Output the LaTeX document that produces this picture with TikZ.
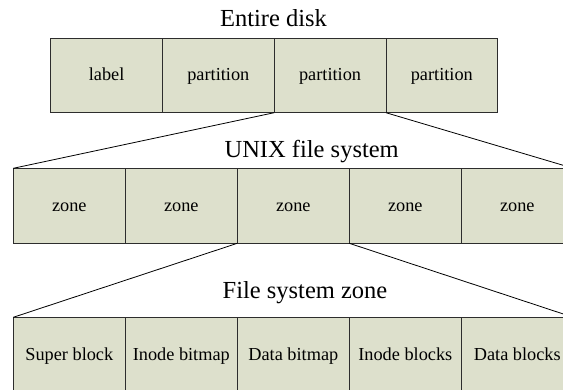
\documentclass[tikz,border=0pt]{standalone}
\usepackage{fontspec}
\setmainfont{Liberation Serif}
\usepackage{tikz}
\usetikzlibrary{math}

\definecolor{boxfill}{RGB}{221,224,204}
\definecolor{boxline}{RGB}{45,45,45}

\tikzset{
    cell/.style={draw=boxline, line width=0.9pt, fill=boxfill, inner sep=0pt, outer sep=0pt,
        text height=15pt, text depth=4pt, font=\rmfamily\fontsize{18.3}{21}\selectfont},
    caption/.style={anchor=base, inner sep=0pt, font=\rmfamily\fontsize{24.5}{28}\selectfont},
    link/.style={black, line width=0.8pt},
}

\begin{document}
\begin{tikzpicture}[x=1pt, y=-1pt]

% Position settings
\tikzmath{
    \DiskW = 111.75;
    \DiskH = 74.4;
    \DiskX = 50.7;
    \DiskY = 38.3;
    \ZoneW = 112;
    \ZoneH = 75;
    \ZoneX = 13.3;
    \ZoneY = 168.3;
    \PartY = 317.3;
}

\clip (0,0) rectangle (563,390);

% Draws entire disk
\node [caption] (disktitle) at (273.5,26.7) {Entire disk};
\foreach \i/\txt in {1/label,2/partition,3/partition,4/partition}
    \node [cell, minimum width=\DiskW pt, minimum height=\DiskH pt]
        (disk\i) at ({\DiskX+(\i-0.5)*\DiskW}, {\DiskY+0.5*\DiskH}) {\txt};

% Draws UNIX file system
\node [caption] (unixtitle) at (311.7,157.7) {UNIX file system};
\foreach \i in {1,...,5}
    \node [cell, minimum width=\ZoneW pt, minimum height=\ZoneH pt]
        (zone\i) at ({\ZoneX+(\i-0.5)*\ZoneW}, {\ZoneY+0.5*\ZoneH}) {zone};

% Draws file system zone
\node [caption] (parttitle) at (305,298.3) {File system zone};
\foreach \i/\txt in {1/Super block,2/Inode bitmap,3/Data bitmap,4/Inode blocks,5/Data blocks}
    \node [cell, minimum width=\ZoneW pt, minimum height=\ZoneH pt]
        (part\i) at ({\ZoneX+(\i-0.5)*\ZoneW}, {\PartY+0.5*\ZoneH}) {\txt};

% Draws zoom lines
\draw [link] (disk3.south west) -- (zone1.north west);
\draw [link] (disk3.south east) -- (zone5.north east);
\draw [link] (zone3.south west) -- (part1.north west);
\draw [link] (zone3.south east) -- (part5.north east);

\end{tikzpicture}
\end{document}
